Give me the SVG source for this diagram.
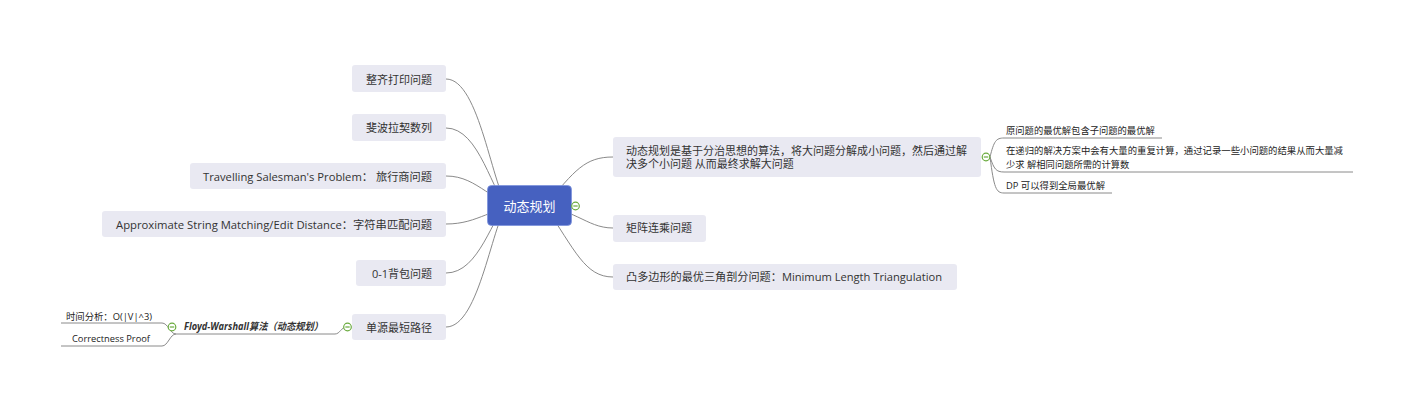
<svg xmlns="http://www.w3.org/2000/svg" width="1413" height="406" viewBox="0 0 1413 406">
<defs>
<style>
.bg{fill:#ffffff}
.ln{fill:none;stroke:#8a8a8a;stroke-width:1}
.box{fill:#e9e9f2}
.root{fill:#4661c0;stroke:#7d93dc;stroke-width:0.8}
.t{font-family:'Open Sans','Noto Sans CJK SC',sans-serif;font-size:11px;fill:#333333}
.rt{font-family:'Noto Sans CJK SC','Open Sans',sans-serif;font-size:13px;fill:#ffffff}
.s{font-family:'Open Sans','Noto Sans CJK SC',sans-serif;font-size:9.3px;fill:#222222}
.fw{font-family:'Open Sans','Noto Sans CJK SC',sans-serif;font-size:10px;font-weight:bold;font-style:italic;fill:#333333}
.tg circle{fill:#ffffff;stroke:#6aab3e;stroke-width:1.2}
.tg line{stroke:#6aab3e;stroke-width:1.2}
</style>
</defs>
<rect class="bg" x="0" y="0" width="1413" height="406"/>
<g id="connectors">
<path class="ln" d="M446,79 C480,79 492,190 510,210"/>
<path class="ln" d="M446,128 C480,128 492,195 510,210"/>
<path class="ln" d="M446,176 C480,176 490,206 529,206"/>
<path class="ln" d="M446,224 C480,224 490,206 529,206"/>
<path class="ln" d="M446,273 C480,273 492,215 510,200"/>
<path class="ln" d="M446,327 C480,327 492,220 510,200"/>
<path class="ln" d="M545,206 C575,170 585,157 613,157"/>
<path class="ln" d="M529,206 C575,206 585,228 613,228"/>
<path class="ln" d="M545,206 C575,250 585,277 613,277"/>
<path class="ln" d="M176,334 H335 C340,334 341,327 347,327"/>
<path class="ln" d="M61,323 H162 C168,323 170,334 176,334"/>
<path class="ln" d="M61,346 H162 C168,346 170,334 176,334"/>
<path class="ln" d="M990,157 C994,141 996,138 1004,138 H1162"/>
<path class="ln" d="M990,157 C994,169 996,172 1004,172 H1353"/>
<path class="ln" d="M990,157 C994,188 996,193 1004,193 H1112"/>
</g>
<g id="root">
<rect class="root" x="487.5" y="185.5" width="84" height="40" rx="4"/>
<text class="rt" x="529.5" y="211" text-anchor="middle">动态规划</text>
</g>
<g id="n-dp-def">
<rect class="box" x="613" y="137" width="368" height="40" rx="3"/>
<text class="t" x="626" y="154.5">动态规划是基于分治思想的算法，将大问题分解成小问题，然后通过解</text>
<text class="t" x="626" y="167.5">决多个小问题 从而最终求解大问题</text>
</g>
<g id="n-matrix">
<rect class="box" x="613" y="215" width="93" height="27" rx="3"/>
<text class="t" x="626" y="232">矩阵连乘问题</text>
</g>
<g id="n-polygon">
<rect class="box" x="613" y="264" width="344" height="26" rx="3"/>
<text class="t" x="626" y="281" textLength="316" lengthAdjust="spacingAndGlyphs">凸多边形的最优三角剖分问题：Minimum Length Triangulation</text>
</g>
<g id="n-leaf1">
<text class="s" x="1006" y="134">原问题的最优解包含子问题的最优解</text>
</g>
<g id="n-leaf2">
<text class="s" x="1006" y="154" textLength="337" lengthAdjust="spacingAndGlyphs">在递归的解决方案中会有大量的重复计算，通过记录一些小问题的结果从而大量减</text>
<text class="s" x="1006" y="167.5">少求 解相同问题所需的计算数</text>
</g>
<g id="n-leaf3">
<text class="s" x="1006" y="189" textLength="99" lengthAdjust="spacingAndGlyphs">DP 可以得到全局最优解</text>
</g>
<g id="n-print">
<rect class="box" x="352" y="65" width="94" height="27" rx="3"/>
<text class="t" x="432" y="83.5" text-anchor="end">整齐打印问题</text>
</g>
<g id="n-fib">
<rect class="box" x="352" y="114" width="94" height="27" rx="3"/>
<text class="t" x="432" y="132" text-anchor="end">斐波拉契数列</text>
</g>
<g id="n-tsp">
<rect class="box" x="190" y="163" width="256" height="26" rx="3"/>
<text class="t" x="203" y="180.5" textLength="229" lengthAdjust="spacingAndGlyphs">Travelling Salesman's Problem： 旅行商问题</text>
</g>
<g id="n-edit">
<rect class="box" x="102" y="211" width="344" height="26" rx="3"/>
<text class="t" x="116" y="228.5" textLength="316" lengthAdjust="spacingAndGlyphs">Approximate String Matching/Edit Distance：字符串匹配问题</text>
</g>
<g id="n-knap">
<rect class="box" x="356" y="260" width="90" height="26" rx="3"/>
<text class="t" x="432" y="277.5" text-anchor="end">0-1背包问题</text>
</g>
<g id="n-sssp">
<rect class="box" x="352" y="314" width="94" height="26" rx="3"/>
<text class="t" x="432" y="331.5" text-anchor="end">单源最短路径</text>
</g>
<g id="n-floyd">
<text class="fw" x="184" y="330" textLength="139" lengthAdjust="spacingAndGlyphs">Floyd-Warshall算法（动态规划）</text>
</g>
<g id="n-time">
<text class="s" x="66" y="320" textLength="86" lengthAdjust="spacingAndGlyphs">时间分析：O(|V|^3)</text>
</g>
<g id="n-proof">
<text class="s" x="72" y="342" textLength="78" lengthAdjust="spacingAndGlyphs">Correctness Proof</text>
</g>
<g id="toggles" class="tg">
<circle cx="575.5" cy="206" r="3.8"/><line x1="573.3" y1="206" x2="577.7" y2="206"/>
<circle cx="986" cy="157" r="3.8"/><line x1="983.8" y1="157" x2="988.2" y2="157"/>
<circle cx="347.5" cy="327" r="3.8"/><line x1="345.3" y1="327" x2="349.7" y2="327"/>
<circle cx="172" cy="327" r="3.8"/><line x1="169.8" y1="327" x2="174.2" y2="327"/>
</g>
</svg>
